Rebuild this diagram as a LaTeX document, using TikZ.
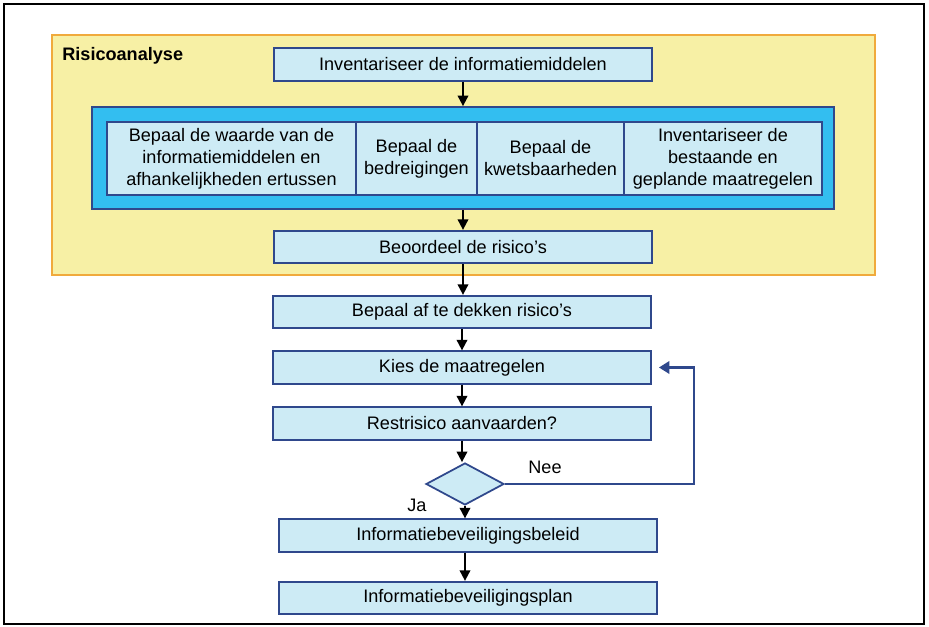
\documentclass[tikz,border=0pt]{standalone}
\usepackage{fontspec}
\setmainfont{Liberation Sans}
\usetikzlibrary{arrows.meta,shapes.geometric}
\definecolor{lichtblauw}{RGB}{205,235,245}
\definecolor{donkerblauw}{RGB}{47,72,140}
\definecolor{cyaan}{RGB}{51,190,240}
\definecolor{geel}{RGB}{247,240,165}
\definecolor{oranje}{RGB}{240,170,60}
\begin{document}
\begin{tikzpicture}[
 box/.style={rectangle, draw=donkerblauw, line width=1pt, fill=lichtblauw, minimum width=7.56cm, minimum height=0.65cm, font=\fontsize{10.3}{12.5}\selectfont, align=center, inner sep=2pt},
 sub/.style={box, minimum height=1.46cm},
 keuze/.style={diamond, draw=donkerblauw, line width=1pt, fill=lichtblauw, minimum width=1.56cm, minimum height=0.84cm, inner sep=0pt},
 lbl/.style={font=\fontsize{10.3}{12}\selectfont, inner sep=0pt},
 arr/.style={-{Triangle[length=6pt,width=6pt]}, line width=1.1pt},
 terug/.style={-{Triangle[length=6pt,width=7pt]}, line width=1.5pt, draw=donkerblauw},
]
\useasboundingbox (-9.26,6.26) rectangle (9.32,-6.28);
\draw[line width=1.5pt] (-9.18,6.18) rectangle (9.22,-6.22);
\node[draw=oranje, line width=1pt, fill=geel, minimum width=16.46cm, minimum height=4.8cm, inner sep=0pt] (analyse) at (0.01,3.16) {};
\node[lbl, anchor=west, font=\fontsize{10.3}{12}\selectfont\bfseries] (titel) at (-8.02,5.14) {Risicoanalyse};
\node[box] (inv) at (0,4.97) {Inventariseer de informatiemiddelen};
\node[rectangle, draw=donkerblauw, line width=1pt, fill=cyaan, minimum width=14.84cm, minimum height=2.04cm] (blok) at (0,3.10) {};
\node[sub, minimum width=4.98cm] (waarde) at (-4.63,3.09) {Bepaal de waarde van de\\informatiemiddelen en\\afhankelijkheden ertussen};
\node[sub, minimum width=2.42cm] (bedr) at (-0.93,3.09) {Bepaal de\\bedreigingen};
\node[sub, minimum width=2.94cm] (kwets) at (1.75,3.09) {Bepaal de\\kwetsbaarheden};
\node[sub, minimum width=3.96cm] (best) at (5.20,3.09) {Inventariseer de\\bestaande en\\geplande maatregelen};
\node[box] (beoord) at (0,1.32) {Beoordeel de risico's};
\node[box] (afdek) at (-0.02,0.02) {Bepaal af te dekken risico's};
\node[box] (kies) at (-0.02,-1.09) {Kies de maatregelen};
\node[box] (rest) at (-0.02,-2.21) {Restrisico aanvaarden?};
\node[keuze] (dia) at (0.04,-3.42) {};
\node[box] (beleid) at (0.10,-4.45) {Informatiebeveiligingsbeleid};
\node[box] (plan) at (0.10,-5.70) {Informatiebeveiligingsplan};
\node[lbl] (nee) at (1.64,-3.08) {Nee};
\node[lbl] (ja) at (-0.92,-3.84) {Ja};
\draw[arr] (inv.south) -- (inv.south |- blok.north);
\draw[arr] (blok.south -| beoord.north) -- (beoord.north);
\draw[arr] (beoord.south) -- (beoord.south |- afdek.north);
\draw[arr] (afdek.south) -- (kies.north);
\draw[arr] (kies.south) -- (rest.north);
\draw[arr] (rest.south) -- (rest.south |- dia.north);
\draw[arr] (dia.south) -- (dia.south |- beleid.north);
\draw[arr] (beleid.south -| dia.south) -- (dia.south |- plan.north);
\draw[terug, shorten >=4pt] (dia.east) -- (4.62,-3.42) |- (kies.east);
\end{tikzpicture}
\end{document}
